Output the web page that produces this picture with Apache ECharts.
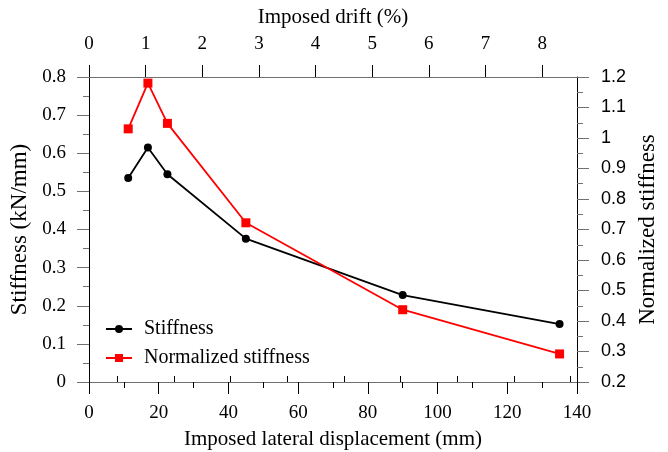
<!DOCTYPE html>
<html>
<head>
<meta charset="utf-8">
<script src="https://cdn.jsdelivr.net/npm/echarts@6/dist/echarts.min.js"></script>
<style>
  html, body { margin: 0; padding: 0; background: #fff; }
  #chart { width: 668px; height: 452px; }
</style>
</head>
<body>
<div id="chart"></div>
<script>
// Imposed lateral displacement of each cycle (mm)
const displacement = [11.25, 16.9, 22.5, 45, 90, 135];
// Secant stiffness (kN/mm)
const stiffness = [0.535, 0.615, 0.545, 0.376, 0.228, 0.152];
// Stiffness normalised by the reference stiffness
const normalized = [1.03, 1.18, 1.048, 0.722, 0.437, 0.292];

// Drift axis ticks (%) — 1 % drift equals 16.25 mm of lateral displacement
const mmPerPercent = 16.25;
const driftMajor = [0, 1, 2, 3, 4, 5, 6, 7, 8];
const driftMinor = [0.5, 1.5, 2.5, 3.5, 4.5, 5.5, 6.5, 7.5, 8.5];

const serif = 'Liberation Serif';
const sans = 'Liberation Sans';
const hLine = '#707070';

const chart = echarts.init(document.getElementById('chart'), null, { renderer: 'canvas' });

const xMax = 140;
const driftMax = xMax / mmPerPercent;

const topAxisBase = {
  type: 'value',
  position: 'top',
  min: 0,
  max: driftMax,
  splitLine: { show: false },
  axisLine: { show: true, onZero: false, lineStyle: { color: hLine, width: 1 } }
};

const option = {
  animation: false,
  backgroundColor: '#fff',
  grid: { left: 89, right: 91, top: 77, bottom: 70, containLabel: false, outerBoundsMode: 'none' },
  legend: {
    orient: 'vertical',
    left: 100,
    top: 314,
    itemWidth: 26,
    itemHeight: 10,
    itemGap: 9,
    textStyle: { fontFamily: serif, fontSize: 20, color: '#000', padding: [0, 0, 0, 7] },
    data: ['Stiffness', 'Normalized stiffness']
  },
  xAxis: [
    {
      type: 'value',
      position: 'bottom',
      min: 0,
      max: xMax,
      interval: 20,
      name: 'Imposed lateral displacement (mm)',
      nameLocation: 'middle',
      nameGap: 47,
      nameTextStyle: { fontFamily: serif, fontSize: 21, color: '#000' },
      splitLine: { show: false },
      axisLine: { onZero: false, lineStyle: { color: hLine, width: 1 } },
      axisTick: { inside: false, length: 12, lineStyle: { color: '#000' } },
      minorTick: { show: true, splitNumber: 2, length: 6, lineStyle: { color: '#000' } },
      axisLabel: { margin: 22, fontFamily: serif, fontSize: 19, color: '#000' }
    },
    Object.assign({}, topAxisBase, {
      name: 'Imposed drift (%)',
      nameLocation: 'middle',
      nameGap: 49,
      nameTextStyle: { fontFamily: serif, fontSize: 21, color: '#000' },
      axisTick: { show: true, inside: false, length: 12, customValues: driftMajor, lineStyle: { color: '#000' } },
      axisLabel: { show: true, margin: 23, customValues: driftMajor, fontFamily: serif, fontSize: 19, color: '#000' }
    }),
    Object.assign({}, topAxisBase, {
      axisLine: { show: false },
      axisTick: { show: true, inside: false, length: 6, customValues: driftMinor, lineStyle: { color: '#000' } },
      axisLabel: { show: false }
    })
  ],
  yAxis: [
    {
      type: 'value',
      position: 'left',
      min: 0,
      max: 0.8,
      interval: 0.1,
      name: 'Stiffness (kN/mm)',
      nameLocation: 'middle',
      nameGap: 57,
      nameTextStyle: { fontFamily: serif, fontSize: 23, color: '#000' },
      splitLine: { show: false },
      axisLine: { show: true, onZero: false, lineStyle: { color: '#000', width: 1 } },
      axisTick: { inside: false, length: 12, lineStyle: { color: hLine } },
      minorTick: { show: true, splitNumber: 2, length: 6, lineStyle: { color: hLine } },
      axisLabel: { margin: 23, fontFamily: serif, fontSize: 19, color: '#000' }
    },
    {
      type: 'value',
      position: 'right',
      min: 0.2,
      max: 1.2,
      interval: 0.1,
      name: 'Normalized stiffness',
      nameLocation: 'middle',
      nameGap: 55,
      nameTextStyle: { fontFamily: serif, fontSize: 23, color: '#000' },
      splitLine: { show: false },
      axisLine: { show: true, onZero: false, lineStyle: { color: '#000', width: 1 } },
      axisTick: { inside: false, length: 12, lineStyle: { color: hLine } },
      minorTick: { show: true, splitNumber: 2, length: 6, lineStyle: { color: hLine } },
      axisLabel: {
        margin: 24, fontFamily: sans, fontSize: 18, color: '#000',
        formatter: v => String(Math.round(v * 10) / 10)
      }
    }
  ],
  series: [
    {
      name: 'Stiffness',
      type: 'line',
      xAxisIndex: 0,
      yAxisIndex: 0,
      data: displacement.map((x, i) => [x, stiffness[i]]),
      symbol: 'circle',
      symbolSize: 8,
      lineStyle: { color: '#000', width: 1.8 },
      itemStyle: { color: '#000' }
    },
    {
      name: 'Normalized stiffness',
      type: 'line',
      xAxisIndex: 0,
      yAxisIndex: 1,
      data: displacement.map((x, i) => [x, normalized[i]]),
      symbol: 'rect',
      symbolSize: 9,
      lineStyle: { color: '#ff0000', width: 1.8 },
      itemStyle: { color: '#ff0000' }
    }
  ]
};

chart.setOption(option);
</script>
</body>
</html>
